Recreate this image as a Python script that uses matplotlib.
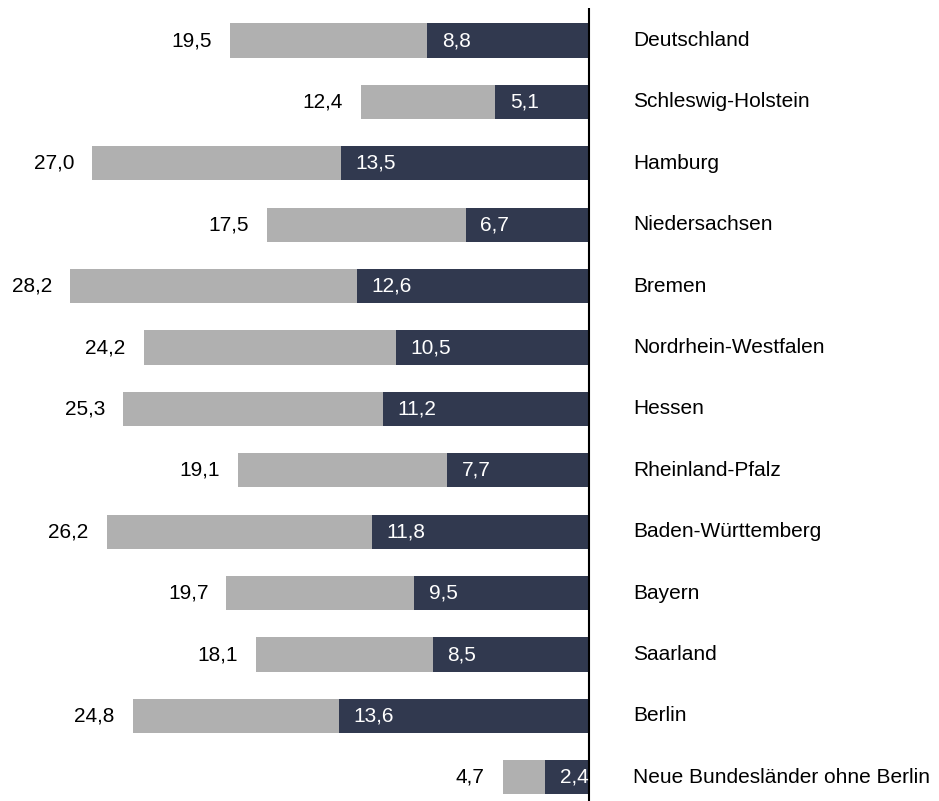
import matplotlib
matplotlib.use("Agg")
import matplotlib.pyplot as plt

categories = ["Deutschland", "Schleswig-Holstein", "Hamburg", "Niedersachsen", "Bremen",
              "Nordrhein-Westfalen", "Hessen", "Rheinland-Pfalz", "Baden-Württemberg",
              "Bayern", "Saarland", "Berlin", "Neue Bundesländer ohne Berlin"]
gray_values = [19.5, 12.4, 27.0, 17.5, 28.2, 24.2, 25.3, 19.1, 26.2, 19.7, 18.1, 24.8, 4.7]
dark_values = [8.8, 5.1, 13.5, 6.7, 12.6, 10.5, 11.2, 7.7, 11.8, 9.5, 8.5, 13.6, 2.4]

GRAY = "#b0b0b0"
DARK = "#31394f"

plt.rcParams['font.family'] = ['Liberation Sans', 'DejaVu Sans']

fig = plt.figure(figsize=(9.39, 8.01), dpi=100)
ax = fig.add_axes([0, 0, 1, 1])
ax.set_xlim(32.0, -19.0)
ax.set_ylim(12.386, -0.66)
ax.axis("off")

ypos = list(range(len(categories)))
bh = 0.555
ax.barh(ypos, gray_values, height=bh, color=GRAY, left=0)
ax.barh(ypos, dark_values, height=bh, color=DARK, left=0)

fs = 15
def fmt(v):
    return f"{v:.1f}".replace(".", ",")

for y, g, d, c in zip(ypos, gray_values, dark_values, categories):
    ax.annotate(fmt(g), (g, y), xytext=(-13, 0), textcoords="offset points",
                ha="right", va="center", fontsize=fs, color="black")
    ax.annotate(fmt(d), (d, y), xytext=(10.5, 0), textcoords="offset points",
                ha="left", va="center", fontsize=fs, color="white")
    ax.annotate(c, (0, y), xytext=(31.5, 0), textcoords="offset points",
                ha="left", va="center", fontsize=fs, color="black")

ax.plot([0, 0], [-0.53, 12.386], color="black", lw=1.5, solid_capstyle="butt")

fig.savefig("out.png", dpi=100)
